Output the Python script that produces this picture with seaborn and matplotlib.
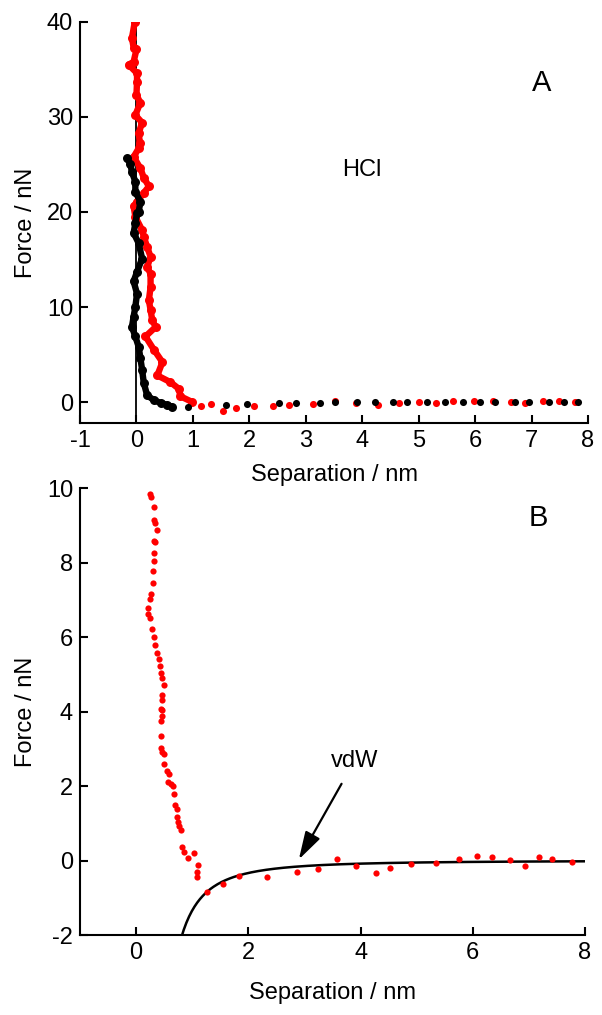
import numpy as np
import pandas as pd
import matplotlib
matplotlib.use("Agg")
import matplotlib.pyplot as plt
import seaborn as sns

sns.set_theme(style="ticks")
plt.rcParams['font.family'] = ['Liberation Sans', 'DejaVu Sans']
plt.rcParams['axes.unicode_minus'] = False
plt.rcParams['text.color'] = 'black'
plt.rcParams['axes.labelcolor'] = 'black'

# ---- Panel A: force vs separation in HCl ----
# red trace, dense part (top to bottom)
a_red_sep = [-0.03, -0.08, -0.05, 0.00, -0.05, -0.14, 0.01, 0.01, 0.00, 0.07,
             -0.02, 0.10, 0.04, 0.06, 0.04, -0.05, 0.07, 0.13, 0.22, 0.13,
             0.01, -0.05, -0.02, 0.10, 0.13, 0.19, 0.25, 0.19, 0.25, 0.25,
             0.22, 0.25, 0.28, 0.34, 0.16, 0.31, 0.46, 0.37, 0.60, 0.75,
             0.78, 0.99]
a_red_force = [40.0, 38.3, 37.3, 37.1, 35.8, 35.5, 34.6, 33.7, 32.3, 31.5,
               30.2, 29.4, 28.3, 27.3, 26.7, 25.8, 24.6, 23.6, 22.7, 22.0,
               21.1, 20.6, 19.5, 18.1, 17.4, 16.3, 15.3, 14.2, 13.5, 12.1,
               10.7, 9.7, 8.6, 7.9, 6.9, 5.5, 4.2, 2.8, 2.1, 1.4,
               0.6, 0.0]
# red trace, sparse part
a_red_tail_sep = [1.14, 1.32, 1.54, 1.76, 2.08, 2.42, 2.70, 3.13, 3.52, 3.89,
                  4.28, 4.65, 5.00, 5.31, 5.61, 5.98, 6.32, 6.63, 6.89, 7.20,
                  7.48, 7.77]
a_red_tail_force = [-0.4, -0.2, -0.9, -0.6, -0.4, -0.4, -0.3, -0.2, 0.1, -0.1,
                    -0.35, -0.15, 0.0, -0.05, 0.1, 0.15, 0.15, 0.05, -0.1, 0.15,
                    0.1, 0.0]
# black trace, dense part
a_blk_sep = [-0.17, -0.11, -0.08, -0.02, -0.02, 0.07, 0.04, 0.01, -0.02, -0.05,
             0.04, 0.10, 0.01, -0.05, 0.01, -0.02, -0.05, -0.08, -0.02, 0.04,
             0.07, 0.10, 0.13, 0.19, 0.31, 0.43, 0.54, 0.63]
a_blk_force = [25.65, 25.1, 24.2, 23.2, 22.1, 21.1, 20.0, 19.9, 18.8, 17.8,
               16.7, 15.1, 13.7, 12.7, 11.4, 10.0, 9.0, 7.9, 6.9, 5.8,
               4.6, 3.4, 2.0, 0.7, 0.2, -0.1, -0.3, -0.5]
# black trace, sparse part
a_blk_tail_sep = [0.92, 1.58, 1.96, 2.53, 2.82, 3.25, 3.52, 3.91, 4.22, 4.54,
                  4.79, 5.15, 5.47, 5.78, 6.08, 6.36, 6.71, 6.95, 7.30, 7.57,
                  7.83]
a_blk_tail_force = [-0.55, -0.3, -0.25, -0.15, -0.1, -0.1, 0.05, 0.0, 0.0, 0.0,
                    0.0, 0.0, 0.0, 0.0, 0.0, 0.0, 0.0, 0.0, 0.0, 0.0,
                    0.0]

# ---- Panel B: close-up with van der Waals model ----
b_sep = [0.25, 0.26, 0.31, 0.31, 0.34, 0.38, 0.31, 0.34, 0.32, 0.32,
         0.30, 0.30, 0.26, 0.25, 0.22, 0.22, 0.25, 0.28, 0.31, 0.34,
         0.37, 0.40, 0.43, 0.44, 0.47, 0.49, 0.47, 0.47, 0.44, 0.46,
         0.46, 0.44, 0.44, 0.44, 0.46, 0.49, 0.50, 0.55, 0.59, 0.56,
         0.62, 0.65, 0.68, 0.69, 0.72, 0.72, 0.74, 0.77, 0.80, 0.81,
         0.86, 0.93, 1.03, 1.10, 1.09, 1.08,
         1.26, 1.55, 1.83, 2.34, 2.86, 3.25, 3.58, 3.92, 4.27, 4.53,
         4.90, 5.34, 5.75, 6.07, 6.34, 6.66, 6.93, 7.18, 7.41, 7.77]
b_force = [9.84, 9.77, 9.50, 9.15, 9.06, 8.88, 8.57, 8.56, 8.25, 8.05,
           7.77, 7.45, 7.16, 7.03, 6.78, 6.62, 6.52, 6.22, 6.01, 5.79,
           5.57, 5.41, 5.22, 5.03, 4.90, 4.70, 4.45, 4.32, 4.07, 4.05,
           3.87, 3.74, 3.33, 3.03, 2.91, 2.86, 2.58, 2.39, 2.33, 2.10,
           2.06, 2.01, 1.79, 1.49, 1.37, 1.16, 1.03, 0.92, 0.81, 0.36,
           0.22, 0.07, 0.20, -0.12, -0.31, -0.43,
           -0.84, -0.62, -0.41, -0.43, -0.32, -0.23, 0.03, -0.15, -0.34, -0.20,
           -0.09, -0.08, 0.04, 0.11, 0.10, 0.02, -0.14, 0.09, 0.04, -0.04]

# van der Waals model F = -C / D^2 (nN nm^2)
vdw_coeff = 1.34
vdw_sep = np.linspace(0.8, 8.0, 300)
vdw_force = -vdw_coeff / vdw_sep ** 2

RED = "#ff0000"
BLACK = "#000000"
FS = 17

fig = plt.figure(figsize=(6.02, 10.15), dpi=100)
ax_a = fig.add_axes([0.1329, 0.5833, 0.8439, 0.3951])
ax_b = fig.add_axes([0.1329, 0.0788, 0.8389, 0.4404])

# ---- draw panel A ----
ax_a.axvline(0, color=BLACK, lw=1.3, zorder=1)
sns.lineplot(x=a_red_sep, y=a_red_force, sort=False, estimator=None, color=RED,
             lw=4.6, ax=ax_a, zorder=2)
sns.scatterplot(x=a_red_sep, y=a_red_force, color=RED, s=42, linewidth=0,
                ax=ax_a, zorder=2)
sns.scatterplot(x=a_red_tail_sep, y=a_red_tail_force, color=RED, s=26,
                linewidth=0, ax=ax_a, zorder=2)
sns.lineplot(x=a_blk_sep, y=a_blk_force, sort=False, estimator=None, color=BLACK,
             lw=4.6, ax=ax_a, zorder=3)
sns.scatterplot(x=a_blk_sep, y=a_blk_force, color=BLACK, s=42, linewidth=0,
                ax=ax_a, zorder=3)
sns.scatterplot(x=a_blk_tail_sep, y=a_blk_tail_force, color=BLACK, s=26,
                linewidth=0, ax=ax_a, zorder=3)

ax_a.set_xlim(-1, 8)
ax_a.set_ylim(-2.2, 40)
ax_a.set_xticks(range(-1, 9))
ax_a.set_yticks([0, 10, 20, 30, 40])
ax_a.text(7.18, 33.6, "A", fontsize=21, ha="center", va="center", color=BLACK)
ax_a.text(4.0, 24.4, "HCl", fontsize=FS, ha="center", va="center", color=BLACK)

# ---- draw panel B ----
sns.lineplot(x=vdw_sep, y=vdw_force, color=BLACK, lw=1.8, ax=ax_b, zorder=2)
sns.scatterplot(x=b_sep, y=b_force, color=RED, s=20, linewidth=0, ax=ax_b,
                zorder=3)
ax_b.set_xlim(-1, 8)
ax_b.set_ylim(-2, 10)
ax_b.set_xticks([0, 2, 4, 6, 8])
ax_b.set_yticks([-2, 0, 2, 4, 6, 8, 10])
ax_b.text(7.16, 9.19, "B", fontsize=21, ha="center", va="center", color=BLACK)
ax_b.annotate("vdW", xy=(2.90, 0.03), xytext=(3.89, 2.67), fontsize=FS,
              ha="center", va="center", color=BLACK,
              arrowprops=dict(arrowstyle="-|>,head_length=0.85,head_width=0.25",
                              color=BLACK, lw=1.6,
                              mutation_scale=20, shrinkA=7, shrinkB=0))

for ax, xpad in ((ax_a, 9), (ax_b, 13)):
    sns.despine(ax=ax)
    for side in ("left", "bottom"):
        ax.spines[side].set_linewidth(1.5)
        ax.spines[side].set_color(BLACK)
    ax.tick_params(direction="in", length=6, width=1.5, labelsize=FS,
                   colors=BLACK, pad=5)
    ax.set_xlabel("Separation / nm", fontsize=FS, color=BLACK, labelpad=xpad)
    ax.set_ylabel("Force / nN", fontsize=FS, color=BLACK, labelpad=7)
    ax.grid(False)
    if ax.get_legend() is not None:
        ax.get_legend().remove()

fig.savefig("out.png", dpi=100, facecolor="white")
